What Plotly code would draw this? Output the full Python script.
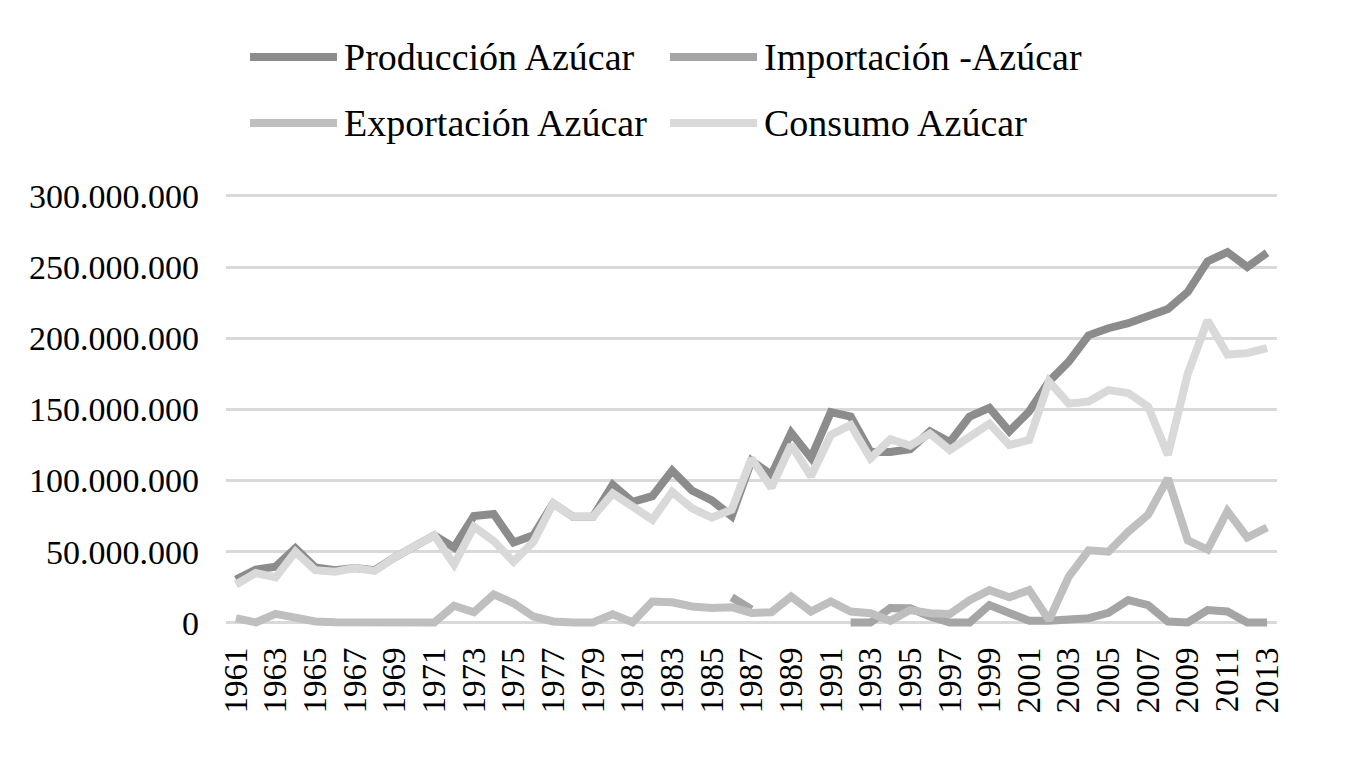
import plotly.graph_objects as go

# Azúcar 1961-2013 (toneladas)
years = list(range(1961, 2014))

produccion = [
    30.5e6, 37.5e6, 39.5e6, 52.5e6, 39.0e6, 37.0e6, 38.5e6, 37.0e6, 46.0e6, 53.5e6,
    61.5e6, 53.0e6, 75.0e6, 76.5e6, 56.5e6, 61.5e6, 84.0e6, 74.5e6, 74.5e6, 97.0e6,
    85.0e6, 89.0e6, 107.0e6, 93.0e6, 86.0e6, 75.0e6, 114.0e6, 104.0e6, 133.5e6, 116.0e6,
    148.0e6, 145.0e6, 120.0e6, 120.0e6, 122.0e6, 134.5e6, 127.0e6, 145.0e6, 151.0e6, 134.5e6,
    148.5e6, 169.5e6, 183.5e6, 202.0e6, 207.0e6, 210.5e6, 215.0e6, 220.5e6, 232.5e6, 254.0e6,
    260.5e6, 250.0e6, 260.0e6,
]

importacion = [None] * 25 + [
    18.0e6, 9.5e6, None, None, None, None,
    0.2e6, 0.2e6, 10.5e6, 10.3e6, 4.5e6, 0.3e6, 0.3e6, 12.5e6, 7.0e6,
    1.5e6, 1.5e6, 2.0e6, 3.3e6, 7.0e6, 16.0e6, 12.5e6, 1.0e6, 0.3e6, 9.0e6,
    8.0e6, 0.3e6, 0.3e6,
]

exportacion = [
    3.3e6, 0.3e6, 6.3e6, 3.3e6, 1.0e6, 0.5e6, 0.3e6, 0.5e6, 0.5e6, 0.5e6,
    0.3e6, 12.0e6, 7.5e6, 20.0e6, 13.8e6, 4.5e6, 1.0e6, 0.3e6, 0.3e6, 6.0e6,
    0.5e6, 15.0e6, 14.5e6, 11.5e6, 10.5e6, 11.0e6, 7.0e6, 7.5e6, 18.5e6, 8.0e6,
    15.0e6, 8.0e6, 6.8e6, 1.5e6, 9.0e6, 6.8e6, 6.3e6, 16.0e6, 23.0e6, 18.0e6,
    23.0e6, 2.0e6, 32.5e6, 51.0e6, 50.0e6, 64.0e6, 76.0e6, 101.5e6, 58.0e6, 51.5e6,
    78.5e6, 60.0e6, 67.0e6,
]

consumo = [
    27.0e6, 35.0e6, 32.0e6, 50.0e6, 37.0e6, 36.0e6, 38.5e6, 36.5e6, 46.0e6, 53.5e6,
    61.5e6, 41.0e6, 67.5e6, 57.5e6, 43.0e6, 57.0e6, 84.0e6, 74.5e6, 74.5e6, 91.0e6,
    82.0e6, 72.5e6, 92.0e6, 80.5e6, 74.0e6, 79.5e6, 115.5e6, 95.0e6, 125.0e6, 103.0e6,
    132.0e6, 139.0e6, 115.5e6, 129.0e6, 124.5e6, 133.0e6, 121.5e6, 130.5e6, 140.0e6, 125.0e6,
    128.5e6, 169.5e6, 154.0e6, 155.5e6, 163.5e6, 161.5e6, 152.0e6, 118.0e6, 175.0e6, 212.5e6,
    188.5e6, 189.5e6, 193.0e6,
]

series = [
    ('Producción Azúcar', produccion, '#8c8c8c'),
    ('Importación -Azúcar', importacion, '#a5a5a5'),
    ('Exportación Azúcar', exportacion, '#bfbfbf'),
    ('Consumo Azúcar', consumo, '#d9d9d9'),
]

FONT = 'Liberation Serif'
# page body has an 8px margin, so the figure is drawn 8px smaller and offset
W, H = 1350, 760
L, R, T, B = 218, 81, 185, 138   # plot area in figure pixels

fig = go.Figure()
for name, vals, color in series:
    fig.add_trace(go.Scatter(
        x=years, y=vals, name=name, mode='lines',
        line=dict(color=color, width=8), connectgaps=False,
    ))


def px_to_paper(px, py):
    return (px - L) / (W - L - R), (H - B - py) / (H - T - B)


# legend drawn by hand: 2 x 2, long sample lines
legend_pos = [(242, 49), (662, 49), (242, 115), (662, 115)]
for (name, _, color), (lx, ly) in zip(series, legend_pos):
    x0, y0 = px_to_paper(lx, ly)
    x1, _ = px_to_paper(lx + 87, ly)
    tx, _ = px_to_paper(lx + 92, ly)
    fig.add_shape(type='line', xref='paper', yref='paper', x0=x0, x1=x1, y0=y0, y1=y0,
                  line=dict(color=color, width=8))
    fig.add_annotation(text=name, xref='paper', yref='paper', x=tx, y=y0,
                       xanchor='left', yanchor='middle', showarrow=False,
                       font=dict(family=FONT, size=38, color='black'))

fig.update_layout(
    width=W, height=H,
    margin=dict(l=L, r=R, t=T, b=B),
    paper_bgcolor='white', plot_bgcolor='white',
    showlegend=False,
    separators=',.',
    font=dict(family=FONT, size=33, color='black'),
)
fig.update_xaxes(
    range=[1960.5, 2013.5], tickvals=years[::2], tickangle=-90,
    showgrid=False, zeroline=False, showline=False, ticks='',
    ticklabelstandoff=10,
    tickfont=dict(family=FONT, size=33, color='black'),
)
fig.update_yaxes(
    range=[-5e6, 302e6], tickvals=[0, 50e6, 100e6, 150e6, 200e6, 250e6, 300e6],
    tickformat=',.0f', showgrid=True, gridcolor='#d9d9d9', gridwidth=2.5,
    zeroline=False, showline=False, ticks='', ticklabelstandoff=26,
    tickfont=dict(family=FONT, size=34, color='black'),
)

fig.write_html('out.html')
